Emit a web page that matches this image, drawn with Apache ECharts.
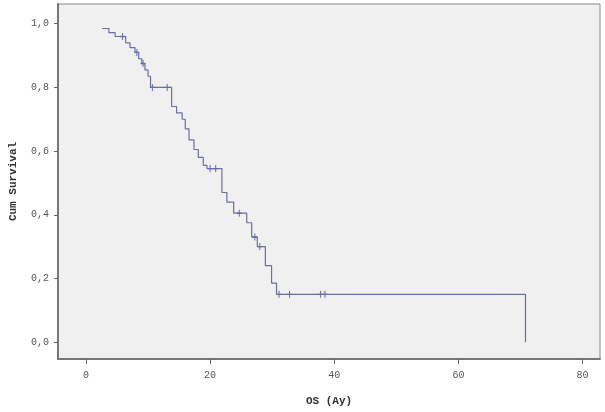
<!DOCTYPE html>
<html>
<head>
<meta charset="utf-8">
<script src="https://cdn.jsdelivr.net/npm/echarts@6/dist/echarts.min.js"></script>
<style>
html,body{margin:0;padding:0;background:#fff;}
#main{width:605px;height:412px;}
</style>
</head>
<body>
<div id="main"></div>
<script>
// Kaplan-Meier steps: time of drop (months) and survival after it
var stepTimes = [2.6, 3.7, 4.7, 6.4, 7.1, 7.9, 8.5, 9.0, 9.5, 10.0, 10.4, 13.8, 14.6, 15.5, 16.0, 16.6, 17.4, 18.1, 18.9, 19.5, 21.9, 22.7, 23.8, 25.9, 26.7, 27.6, 28.9, 29.9, 30.7, 70.8];
var stepSurv  = [0.985, 0.972, 0.96, 0.94, 0.925, 0.91, 0.89, 0.875, 0.855, 0.835, 0.80, 0.74, 0.72, 0.70, 0.67, 0.635, 0.605, 0.58, 0.555, 0.545, 0.47, 0.44, 0.405, 0.375, 0.33, 0.30, 0.24, 0.185, 0.15, 0.0];
// censored cases
var censTimes = [5.9, 8.2, 9.2, 10.7, 13.1, 20.0, 20.9, 24.7, 27.2, 28.0, 31.1, 32.8, 37.8, 38.5];
var censSurv  = [0.96, 0.91, 0.875, 0.80, 0.80, 0.545, 0.545, 0.405, 0.33, 0.30, 0.15, 0.15, 0.15, 0.15];
var xTicks = [0, 20, 40, 60, 80];
var yTicks = [0, 0.2, 0.4, 0.6, 0.8, 1.0];

var curve = stepTimes.map(function(t, i){ return [t, stepSurv[i]]; });
var cens = censTimes.map(function(t, i){ return [t, censSurv[i]]; });

var chart = echarts.init(document.getElementById('main'));
var font = '"Liberation Mono", "DejaVu Sans Mono", monospace';
chart.setOption({
    animation: false,
    grid: {left:52, top:4, right:5, bottom:50, show:true, backgroundColor:'#f0f0f0', borderColor:'#8a8a8a', borderWidth:1},
    xAxis: {
        type:'value', min:-4.5, max:82.8,
        name:'OS (Ay)', nameLocation:'middle', nameGap:37,
        nameTextStyle:{fontFamily:font, fontWeight:'bold', fontSize:11, color:'#333'},
        axisLine:{show:true, onZero:false, lineStyle:{color:'#777', width:2}},
        axisTick:{show:true, length:5, inside:false, customValues:xTicks, lineStyle:{color:'#666'}},
        axisLabel:{customValues:xTicks, margin:11, fontFamily:font, fontSize:10, color:'#555'},
        splitLine:{show:false}
    },
    yAxis: {
        type:'value', min:-0.053, max:1.062,
        name:'Cum Survival', nameLocation:'middle', nameGap:39,
        nameTextStyle:{fontFamily:font, fontWeight:'bold', fontSize:11, color:'#333'},
        axisLine:{show:true, onZero:false, lineStyle:{color:'#777', width:2}},
        axisTick:{show:true, length:4, customValues:yTicks, lineStyle:{color:'#666'}},
        axisLabel:{customValues:yTicks, margin:9, fontFamily:font, fontSize:10, color:'#555',
            formatter:function(v){ return v.toFixed(1).replace('.', ','); }},
        splitLine:{show:false}
    },
    series: [
        {type:'line', data:curve, step:'end', showSymbol:false, symbol:'none',
         lineStyle:{color:'#6a6ea6', width:1.2}},
        {type:'scatter', data:cens, symbol:'path://M4,0H6V10H4Z M0,4H10V6H0Z', symbolSize:[5,7],
         itemStyle:{color:'#45489a'}}
    ]
});
</script>
</body>
</html>
